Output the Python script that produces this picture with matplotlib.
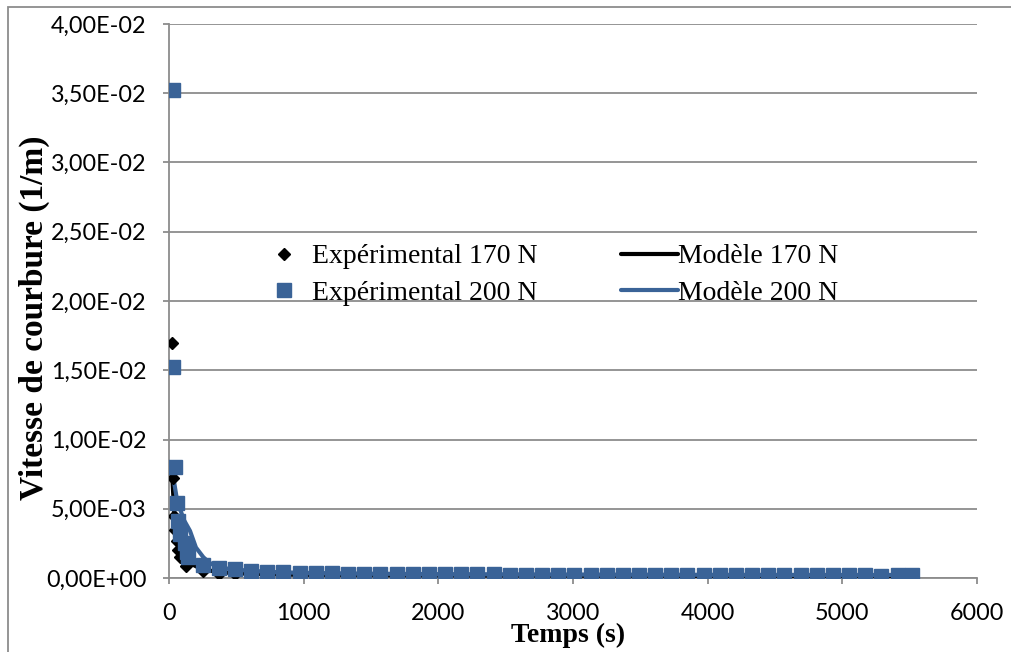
import matplotlib
matplotlib.use('Agg')
import matplotlib.pyplot as plt
from matplotlib.patches import Rectangle
from matplotlib.ticker import FuncFormatter, MultipleLocator

# temps des mesures (s)
t_tail = [250, 370, 490, 610, 730, 850, 970, 1090, 1210, 1330, 1450, 1570, 1690, 1810, 1930,
          2050, 2170, 2290, 2410, 2530, 2650, 2770, 2890, 3010, 3130, 3250, 3370, 3490, 3610,
          3730, 3850, 3970, 4090, 4210, 4330, 4450, 4570, 4690, 4810, 4930, 5050, 5170, 5290,
          5410, 5520]

# Expérimental 200 N
t_200 = [28, 30, 44, 62, 70, 82, 119, 136, 143] + t_tail
v_200 = [0.0352, 0.0152, 0.0080, 0.0054, 0.0041, 0.0032, 0.0025, 0.0019, 0.0015,
         0.00095, 0.00070, 0.00063, 0.00048, 0.00046, 0.00040, 0.00037, 0.00036, 0.00035,
         0.00031, 0.00032, 0.00031, 0.00028, 0.00029, 0.00027, 0.00027, 0.00027, 0.00028,
         0.00027, 0.00024, 0.00024, 0.00024, 0.00023, 0.00023, 0.00023, 0.00023, 0.00023,
         0.00023, 0.00023, 0.00022, 0.00022, 0.00022, 0.00022, 0.00022, 0.00022, 0.00022,
         0.00022, 0.00022, 0.00022, 0.00022, 0.00022, 0.00022, 0.00013, 0.00022, 0.00022]

# Expérimental 170 N
t_170 = [22, 27, 37, 45, 57, 69, 80, 126] + t_tail
v_170 = [0.0170, 0.0072, 0.0045, 0.0035, 0.0027, 0.0020, 0.0015, 0.0009,
         0.00050, 0.00030, 0.00026, 0.00024, 0.00022, 0.00021, 0.00020, 0.00020, 0.00019,
         0.00019, 0.00018, 0.00018, 0.00018, 0.00017, 0.00017, 0.00017, 0.00017, 0.00016,
         0.00016, 0.00016, 0.00016, 0.00016, 0.00015, 0.00015, 0.00015, 0.00015, 0.00015,
         0.00015, 0.00015, 0.00015, 0.00014, 0.00014, 0.00014, 0.00014, 0.00014, 0.00014,
         0.00014, 0.00014, 0.00014, 0.00014, 0.00014, 0.00014, 0.00014, 0.00014, 0.00014]

# Modèle 200 N
tm_200 = [30, 60, 110, 156, 200, 255, 300, 360, 450, 600, 800, 1000, 1500, 2000, 3000, 4000, 5000, 5520]
vm_200 = [0.0074, 0.0056, 0.0042, 0.0034, 0.0022, 0.0015, 0.0011, 0.0008, 0.00065, 0.00052,
          0.00042, 0.00037, 0.00031, 0.00028, 0.00025, 0.00023, 0.00022, 0.00022]

# Modèle 170 N
tm_170 = [25, 40, 60, 100, 150, 250, 400, 600, 1000, 2000, 3000, 4000, 5000, 5520]
vm_170 = [0.0072, 0.0045, 0.0030, 0.0017, 0.0011, 0.0006, 0.0004, 0.00030, 0.00022, 0.00018,
          0.00016, 0.00015, 0.00014, 0.00014]

bleu = '#3A6397'
gris = '#8C8C8C'

fig = plt.figure(figsize=(10.12, 6.52), dpi=100)
ax = fig.add_axes([169 / 1012, 1 - 578 / 652, (977 - 169) / 1012, (578 - 24) / 652])

ax.plot(tm_170, vm_170, color='black', lw=3, label='Modèle 170 N', zorder=3, solid_capstyle='round')
ax.plot(tm_200, vm_200, color=bleu, lw=3, label='Modèle 200 N', zorder=4, solid_capstyle='round')
ax.plot(t_170, v_170, 'D', color='black', ms=6.5, ls='none', label='Expérimental 170 N', zorder=5)
ax.plot(t_200, v_200, 's', color=bleu, ms=10, ls='none', label='Expérimental 200 N', zorder=6)

ax.set_xlim(0, 6000)
ax.set_ylim(0, 0.04)
ax.xaxis.set_major_locator(MultipleLocator(1000))
ax.yaxis.set_major_locator(MultipleLocator(0.005))
ax.yaxis.set_major_formatter(FuncFormatter(lambda v, p: ('%.2E' % v).replace('.', ',')))
ax.grid(axis='y', color=gris, lw=1.3)
ax.set_axisbelow(True)

for s in ['top', 'right']:
    ax.spines[s].set_visible(False)
for s in ['left', 'bottom']:
    ax.spines[s].set_color(gris)
    ax.spines[s].set_linewidth(1.3)
ax.tick_params(axis='both', direction='out', length=4, width=1.3, color=gris,
               labelsize=16.8, colors='black')
ax.tick_params(axis='y', pad=12)
ax.tick_params(axis='x', pad=14)
for lab in ax.get_xticklabels() + ax.get_yticklabels():
    lab.set_fontfamily('Lato')

ax.set_xlabel('Temps (s)', family='Liberation Serif', fontweight='bold', fontsize=20)
ax.xaxis.set_label_coords(0.494, -0.081)
ax.set_ylabel('Vitesse de courbure (1/m)', family='Liberation Serif', fontweight='bold', fontsize=24)
ax.yaxis.set_label_coords(-0.147, 0.47)

h, l = ax.get_legend_handles_labels()
order = [2, 3, 0, 1]
leg = ax.legend([h[i] for i in order], [l[i] for i in order], ncol=2, frameon=False,
                loc='center', bbox_to_anchor=(547 / 1012, 1 - 275 / 652), bbox_transform=fig.transFigure,
                prop={'family': 'Liberation Serif', 'size': 20}, handlelength=2.05, handletextpad=0.0,
                columnspacing=3.0, labelspacing=0.4, numpoints=1, borderpad=0)

# cadre du graphique
fig.add_artist(Rectangle((8 / 1012, -0.1), 1.2, 1 - 7 / 652 + 0.1, transform=fig.transFigure,
                         fill=False, edgecolor=gris, lw=1.3))

fig.savefig('out.png', dpi=100)
